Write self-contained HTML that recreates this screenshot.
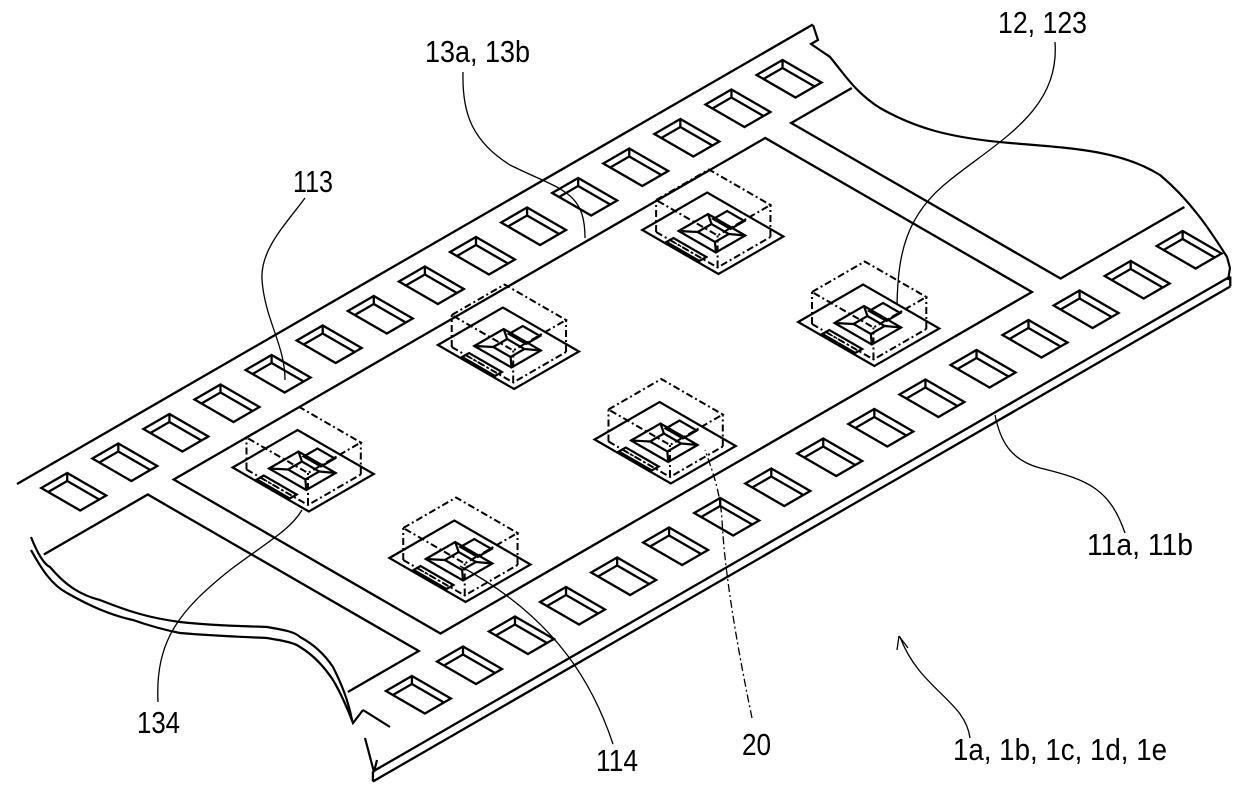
<!DOCTYPE html>
<html><head><meta charset="utf-8"><style>
html,body{margin:0;padding:0;background:#fff;}
svg{display:block;}
text{font-family:"Liberation Sans Narrow","Liberation Sans",sans-serif;font-size:31px;fill:#000;}
</style></head><body>
<svg width="1240" height="790" viewBox="0 0 1240 790" xmlns="http://www.w3.org/2000/svg">
<defs>
<g id="hole" fill="none" stroke="#000" stroke-width="2.3">
<path vector-effect="non-scaling-stroke" d="M-15 0 L15 0 L15 45 L-15 45 Z"/>
<path vector-effect="non-scaling-stroke" d="M15 0 L7 8 L-15 8 M7 8 L7 45"/>
</g>
<g id="comp" fill="none" stroke="#000" stroke-width="2.2">
<path vector-effect="non-scaling-stroke" d="M0 0 L75 0 L75 88 L0 88 Z"/>
<path vector-effect="non-scaling-stroke" d="M20 22 L54 22 L54 65 L20 65 Z"/>
<path vector-effect="non-scaling-stroke" d="M30 34 L46 34 L46 54 L30 54 Z"/>
<path vector-effect="non-scaling-stroke" d="M54 22 L46 34 M20 65 L30 54 M54 65 L46 54 M20 22 L30 34"/>
<path vector-effect="non-scaling-stroke" d="M52 30 L68 30 L68 50 L52 50 Z"/>
<path vector-effect="non-scaling-stroke" d="M2 26 L10 26 L10 64 L2 64 Z"/>
<path vector-effect="non-scaling-stroke" stroke-width="1.4" stroke-dasharray="6 3 2 3" d="M6 28 L6 62"/>
<g stroke-dasharray="7 3 2 3" stroke-width="2">
<path vector-effect="non-scaling-stroke" d="M38 -22 L99 -22 L99 49 L38 49 Z"/>
<path vector-effect="non-scaling-stroke" d="M6 10 L38 -22 M6 81 L38 49 M67 81 L99 49"/>
<path vector-effect="non-scaling-stroke" d="M6 10 L6 81 L67 81"/>
</g>
</g>
</defs>

<g transform="matrix(0.866,-0.5,0.866,0.5,17,484)" fill="none" stroke="#000" stroke-width="2.3">
<path vector-effect="non-scaling-stroke" d="M0 0 L919 0"/>
<path vector-effect="non-scaling-stroke" d="M-82 493 L908 493 M-92 503 L898 503 M908 493 L898 503 M-82 493 L-92 503"/>
<path vector-effect="non-scaling-stroke" d="M-55 86 L65 86 L65 399 L-17 399"/>
<path vector-effect="non-scaling-stroke" d="M95 86 L778 86 L778 394 L95 394 Z"/>
<path vector-effect="non-scaling-stroke" d="M878 86 L808 86 L808 397 L951 397"/>
<use href="#hole" x="25" y="18"/><use href="#hole" x="84" y="18"/><use href="#hole" x="143" y="18"/>
<use href="#hole" x="202" y="18"/><use href="#hole" x="261" y="18"/><use href="#hole" x="320" y="18"/>
<use href="#hole" x="379" y="18"/><use href="#hole" x="438" y="18"/><use href="#hole" x="497" y="18"/>
<use href="#hole" x="556" y="18"/><use href="#hole" x="615" y="18"/><use href="#hole" x="674" y="18"/>
<use href="#hole" x="733" y="18"/><use href="#hole" x="792" y="18"/><use href="#hole" x="851" y="18"/>
<use href="#hole" x="21" y="420"/><use href="#hole" x="80" y="420"/><use href="#hole" x="140" y="420"/>
<use href="#hole" x="199" y="420"/><use href="#hole" x="258" y="420"/><use href="#hole" x="318" y="420"/>
<use href="#hole" x="377" y="420"/><use href="#hole" x="436" y="420"/><use href="#hole" x="496" y="420"/>
<use href="#hole" x="555" y="420"/><use href="#hole" x="614" y="420"/><use href="#hole" x="673" y="420"/>
<use href="#hole" x="733" y="420"/><use href="#hole" x="792" y="420"/><use href="#hole" x="851" y="420"/>
<use href="#hole" x="911" y="420"/>
<use href="#comp" x="615" y="107"/><use href="#comp" x="382" y="104"/><use href="#comp" x="141" y="108"/>
<use href="#comp" x="613" y="289"/><use href="#comp" x="378" y="289"/><use href="#comp" x="141" y="289"/>
</g>

<g fill="none" stroke="#000" stroke-width="2.2">
<path d="M31 537 C38 555 45 565 50 567 C65 585 80 595 100 600 C130 612 150 618 180 622 C215 626 245 626 267 627 C285 630 295 632 300 637 C315 645 325 655 333 667 C342 685 348 700 352 720"/>
<path d="M31 550 C42 570 52 585 67 593 C90 606 110 615 133 620 C150 626 165 630 180 633 C215 636 245 637 267 638 C285 641 295 643 300 647 C315 656 325 668 333 680 C342 695 348 710 353 723 L363 710"/>
<path d="M363 710 L390 727 M365 738 L374 772 L377 760"/>
<path d="M813 25 L818 40 L811 44 L830 57 C845 75 855 92 880 108 C915 128 950 138 1010 143 C1070 148 1120 150 1160 175 C1190 200 1210 230 1227 257 L1230 268"/>
<path d="M1230 268 L1228 280"/>
</g>

<g fill="none" stroke="#000" stroke-width="1.3">
<path d="M463 72 C462 110 470 140 510 165 C560 190 585 190 585 238"/>
<path d="M1055 42 C1060 110 1000 140 950 180 C905 215 898 255 897 305"/>
<path d="M305 198 C285 225 260 250 262 280 C265 320 285 345 285 380"/>
<path d="M158 702 C155 640 180 610 230 570 C270 540 290 530 302 510"/>
<path d="M613 744 C595 690 560 620 460 566"/>
<path d="M1125 533 C1110 490 1090 480 1040 468 C1010 460 1000 440 995 415"/>
<path d="M970 738 C965 700 920 690 900 637"/>
<path d="M899 636 L897 650 M899 636 L908 648"/>
<path stroke-dasharray="8 3 2 3" d="M752 718 C740 660 725 580 722 520 C720 490 712 470 705 450"/>
</g>

<text x="425" y="62" textLength="105" lengthAdjust="spacingAndGlyphs">13a, 13b</text>
<text x="998" y="33" textLength="89" lengthAdjust="spacingAndGlyphs">12, 123</text>
<text x="293" y="192" textLength="40" lengthAdjust="spacingAndGlyphs">113</text>
<text x="137" y="733" textLength="43" lengthAdjust="spacingAndGlyphs">134</text>
<text x="596" y="771" textLength="42" lengthAdjust="spacingAndGlyphs">114</text>
<text x="742" y="755" textLength="29" lengthAdjust="spacingAndGlyphs">20</text>
<text x="1087" y="555" textLength="106" lengthAdjust="spacingAndGlyphs">11a, 11b</text>
<text x="953" y="760" textLength="214" lengthAdjust="spacingAndGlyphs">1a, 1b, 1c, 1d, 1e</text>
</svg>
</body></html>
